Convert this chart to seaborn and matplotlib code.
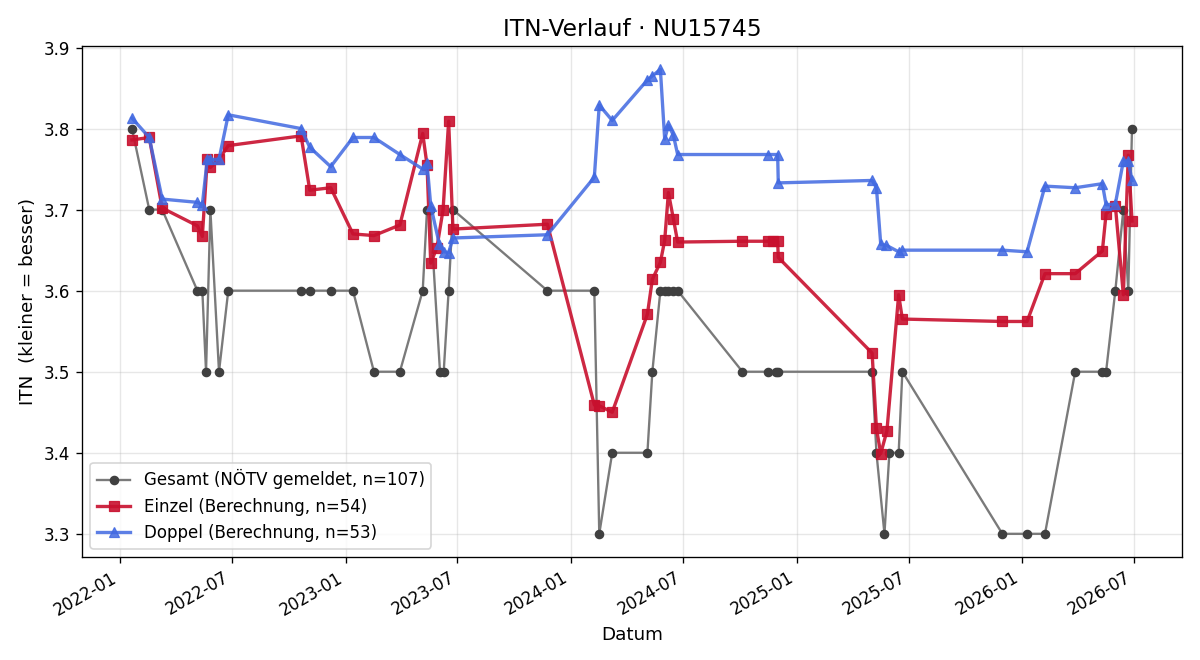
import matplotlib
matplotlib.use("Agg")
import matplotlib.pyplot as plt
import matplotlib.dates as mdates
import seaborn as sns
import pandas as pd

# ---- data ----
gesamt_dates = [
    "2022-01-20", "2022-02-17", "2022-03-10", "2022-05-06", "2022-05-14", "2022-05-20",
    "2022-05-27", "2022-06-10", "2022-06-25",
    "2022-10-21", "2022-11-04", "2022-12-08", "2023-01-13", "2023-02-16", "2023-03-30",
    "2023-05-06", "2023-05-13", "2023-05-18", "2023-06-03", "2023-06-09", "2023-06-17",
    "2023-06-24",
    "2023-11-24", "2024-02-08", "2024-02-16", "2024-03-08", "2024-05-04", "2024-05-12",
    "2024-05-25", "2024-06-01", "2024-06-07", "2024-06-15", "2024-06-22",
    "2024-10-05", "2024-11-16", "2024-11-28", "2024-12-01",
    "2025-05-03", "2025-05-10", "2025-05-23", "2025-05-31", "2025-06-15", "2025-06-21",
    "2025-11-30", "2026-01-09", "2026-02-07", "2026-03-28", "2026-05-11", "2026-05-17",
    "2026-06-01", "2026-06-14", "2026-06-22", "2026-06-28",
]
gesamt_vals = [
    3.8, 3.7, 3.7, 3.6, 3.6, 3.5,
    3.7, 3.5, 3.6,
    3.6, 3.6, 3.6, 3.6, 3.5, 3.5,
    3.6, 3.7, 3.7, 3.5, 3.5, 3.6,
    3.7,
    3.6, 3.6, 3.3, 3.4, 3.4, 3.5,
    3.6, 3.6, 3.6, 3.6, 3.6,
    3.5, 3.5, 3.5, 3.5,
    3.5, 3.4, 3.3, 3.4, 3.4, 3.5,
    3.3, 3.3, 3.3, 3.5, 3.5, 3.5,
    3.6, 3.7, 3.6, 3.8,
]

einzel_dates = [
    "2022-01-20", "2022-02-17", "2022-03-10", "2022-05-06", "2022-05-14", "2022-05-22",
    "2022-05-27", "2022-06-10", "2022-06-25",
    "2022-10-21", "2022-11-04", "2022-12-08", "2023-01-13", "2023-02-16", "2023-03-30",
    "2023-05-06", "2023-05-13", "2023-05-19", "2023-05-29", "2023-06-08", "2023-06-17",
    "2023-06-24",
    "2023-11-24", "2024-02-08", "2024-02-16", "2024-03-08", "2024-05-04", "2024-05-12",
    "2024-05-25", "2024-06-01", "2024-06-07", "2024-06-15", "2024-06-22",
    "2024-10-05", "2024-11-16", "2024-11-23", "2024-12-01", "2024-12-02",
    "2025-05-03", "2025-05-10", "2025-05-17", "2025-05-27", "2025-06-15", "2025-06-21",
    "2025-11-30", "2026-01-09", "2026-02-07", "2026-03-28", "2026-05-11", "2026-05-17",
    "2026-06-01", "2026-06-14", "2026-06-22", "2026-06-28",
]
einzel_vals = [
    3.786, 3.789, 3.702, 3.680, 3.667, 3.762,
    3.752, 3.762, 3.779,
    3.791, 3.724, 3.727, 3.670, 3.668, 3.681,
    3.794, 3.755, 3.634, 3.653, 3.700, 3.809,
    3.676,
    3.682, 3.459, 3.458, 3.450, 3.571, 3.614,
    3.635, 3.662, 3.721, 3.689, 3.660,
    3.661, 3.661, 3.661, 3.661, 3.641,
    3.523, 3.430, 3.399, 3.427, 3.595, 3.565,
    3.562, 3.562, 3.621, 3.621, 3.649, 3.695,
    3.705, 3.595, 3.767, 3.686,
]

doppel_dates = [
    "2022-01-20", "2022-02-17", "2022-03-10", "2022-05-06", "2022-05-14", "2022-05-22",
    "2022-05-27", "2022-06-10", "2022-06-25",
    "2022-10-21", "2022-11-04", "2022-12-08", "2023-01-13", "2023-02-16", "2023-03-30",
    "2023-05-06", "2023-05-13", "2023-05-19", "2023-06-02", "2023-06-09", "2023-06-17",
    "2023-06-24",
    "2023-11-24", "2024-02-08", "2024-02-16", "2024-03-08", "2024-05-04", "2024-05-12",
    "2024-05-25", "2024-06-01", "2024-06-07", "2024-06-15", "2024-06-22",
    "2024-11-16", "2024-12-01", "2024-12-02",
    "2025-05-03", "2025-05-10", "2025-05-17", "2025-05-26", "2025-06-15", "2025-06-21",
    "2025-11-30", "2026-01-09", "2026-02-07", "2026-03-28", "2026-05-11", "2026-05-17",
    "2026-06-01", "2026-06-14", "2026-06-22", "2026-06-28",
]
doppel_vals = [
    3.813, 3.789, 3.713, 3.709, 3.706, 3.762,
    3.762, 3.762, 3.817,
    3.800, 3.777, 3.753, 3.789, 3.789, 3.768,
    3.750, 3.757, 3.705, 3.657, 3.648, 3.647,
    3.665,
    3.669, 3.740, 3.829, 3.810, 3.860, 3.865,
    3.873, 3.787, 3.804, 3.792, 3.768,
    3.768, 3.768, 3.733,
    3.736, 3.727, 3.657, 3.656, 3.648, 3.650,
    3.650, 3.648, 3.729, 3.727, 3.732, 3.706,
    3.707, 3.760, 3.760, 3.736,
]

title = "ITN-Verlauf · NU15745"
x_label = "Datum"
y_label = "ITN  (kleiner = besser)"
lbl_gesamt = "Gesamt (NÖTV gemeldet, n=107)"
lbl_einzel = "Einzel (Berechnung, n=54)"
lbl_doppel = "Doppel (Berechnung, n=53)"

df_g = pd.DataFrame({"Datum": pd.to_datetime(gesamt_dates), "ITN": gesamt_vals})
df_e = pd.DataFrame({"Datum": pd.to_datetime(einzel_dates), "ITN": einzel_vals})
df_d = pd.DataFrame({"Datum": pd.to_datetime(doppel_dates), "ITN": doppel_vals})

fig, ax = plt.subplots(figsize=(10, 5.5), dpi=120)
fig.subplots_adjust(left=0.0683, right=0.985, top=0.930, bottom=0.156)

sns.lineplot(data=df_g, x="Datum", y="ITN", ax=ax, estimator=None, sort=False,
             color="#7a7a7a", linewidth=1.4, marker="o", markersize=5,
             markerfacecolor="#404040", markeredgecolor="#404040",
             label=lbl_gesamt, zorder=2)
sns.lineplot(data=df_e, x="Datum", y="ITN", ax=ax, estimator=None, sort=False,
             color="#c8102e", alpha=0.9, linewidth=2, marker="s", markersize=6,
             markeredgecolor="#c8102e", label=lbl_einzel, zorder=3)
sns.lineplot(data=df_d, x="Datum", y="ITN", ax=ax, estimator=None, sort=False,
             color="#4169E1", alpha=0.85, linewidth=2, marker="^", markersize=6,
             markeredgecolor="#4169E1", label=lbl_doppel, zorder=4)

ax.set_title(title, fontsize=14)
ax.set_xlabel(x_label, fontsize=11)
ax.set_ylabel(y_label, fontsize=11)
ax.grid(True, alpha=0.3)
ax.xaxis.set_major_locator(mdates.MonthLocator(bymonth=[1, 7]))
ax.xaxis.set_major_formatter(mdates.DateFormatter("%Y-%m"))
for lab in ax.get_xticklabels():
    lab.set_rotation(30)
    lab.set_ha("right")
ax.tick_params(labelsize=10)
ax.legend(loc="lower left", fontsize=10)

fig.savefig("out.png", dpi=120)
